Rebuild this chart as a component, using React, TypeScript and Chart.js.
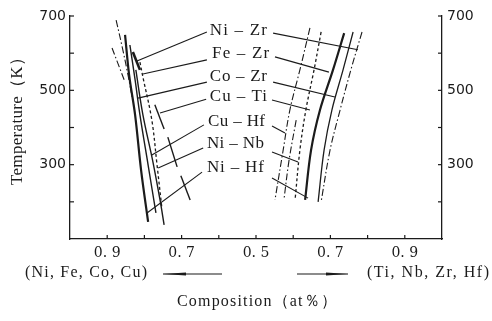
import React, { useEffect, useRef } from "react";
import { Chart, registerables } from "chart.js";

Chart.register(...registerables);

type Pt = [number, number];

// ---- axis ticks ----
const xTickValues = [0.1, 0.2, 0.3, 0.4, 0.5, 0.6, 0.7, 0.8, 0.9];
const xTickLabels = ["0. 9", "", "0. 7", "", "0. 5", "", "0. 7", "", "0. 9"];
const yTickValues = [200, 300, 400, 500, 600, 700];
const yTickLabels = ["", "300", "", "500", "", "700"];

// ---- alloy system labels ----
const systems = ["Ni – Zr", "Fe – Zr", "Co – Zr", "Cu – Ti", "Cu – Hf", "Ni – Nb", "Ni – Hf"];
const labelComposition = [0.376, 0.382, 0.376, 0.376, 0.371, 0.368, 0.368];
const labelTemperature = [662, 600, 536, 482, 415, 358, 291];

// ---- curves: [fraction of (Ti,Nb,Zr,Hf), temperature K] ----
const leftDashDotA: Pt[] = [[0.124, 689], [0.142, 609], [0.156, 541], [0.167, 482]];
const leftDashDotB: Pt[] = [[0.113, 614], [0.148, 522]];
const leftSolid1: Pt[] = [[0.148, 649], [0.159, 541], [0.175, 434], [0.191, 286], [0.21, 146]];
const leftSolid2: Pt[] = [[0.161, 622], [0.175, 528], [0.188, 434], [0.21, 299], [0.231, 170]];
const leftDashed: Pt[] = [[0.188, 576], [0.196, 536], [0.22, 420], [0.234, 299], [0.247, 183]];
const leftSolid3: Pt[] = [[0.177, 555], [0.196, 434], [0.223, 307], [0.242, 205], [0.253, 138]];
const leftArrowNiZr: Pt[] = [[0.169, 603], [0.188, 555]];
const leftSegCuTi: Pt[] = [[0.228, 461], [0.253, 396]];
const leftSegCuHf: Pt[] = [[0.263, 374], [0.288, 294]];
const leftSegNiHf: Pt[] = [[0.298, 270], [0.323, 205]];

const rightDashDot1: Pt[] = [[0.645, 668], [0.618, 555], [0.591, 447], [0.573, 339], [0.551, 205]];
const rightDashDot2: Pt[] = [[0.608, 420], [0.589, 313], [0.575, 205]];
const rightDashed: Pt[] = [[0.675, 657], [0.656, 555], [0.634, 447], [0.618, 339], [0.605, 205]];
const rightSolidThick: Pt[] = [[0.737, 654], [0.707, 555], [0.672, 447], [0.648, 339], [0.632, 205]];
const rightSolid: Pt[] = [[0.761, 657], [0.734, 555], [0.704, 447], [0.683, 339], [0.667, 200]];
const rightDashDot3: Pt[] = [[0.785, 657], [0.755, 555], [0.726, 447], [0.699, 339], [0.675, 200]];

// ---- leader lines from each label ----
const leadersLeft: Pt[][] = [
  [[0.368, 657], [0.18, 579]],
  [[0.368, 582], [0.196, 544]],
  [[0.368, 522], [0.183, 479]],
  [[0.366, 476], [0.242, 439]],
  [[0.36, 407], [0.22, 326]],
  [[0.358, 345], [0.237, 291]],
  [[0.355, 280], [0.207, 170]],
];
const leadersRight: Pt[][] = [
  [[0.546, 654], [0.774, 609]],
  [[0.551, 590], [0.696, 549]],
  [[0.546, 522], [0.712, 482]],
  [[0.543, 474], [0.645, 447]],
  [[0.543, 404], [0.578, 385]],
  [[0.543, 334], [0.613, 307]],
  [[0.543, 264], [0.64, 210]],
];

const INK = "#1b1b1b";
const SERIF = "'Liberation Serif', 'DejaVu Serif', serif";

const mk = (pts: Pt[], width: number, dash: number[], tension = 0.35) => ({
  data: pts.map(([x, y]) => ({ x, y })),
  borderColor: INK,
  backgroundColor: INK,
  borderWidth: width,
  borderDash: dash,
  pointRadius: 0,
  tension,
  fill: false,
  xAxisID: "x",
  yAxisID: "y",
});

const SOLID: number[] = [];
const DASHED = [3, 2.5];
const DASHDOT = [7, 2.5, 1.5, 2.5];

function fitText(ctx: CanvasRenderingContext2D, text: string, x: number, y: number, width: number, align: CanvasTextAlign) {
  (ctx as any).letterSpacing = "0px";
  const w = ctx.measureText(text).width;
  const sp = Math.max(0, (width - w) / Math.max(1, text.length - 1));
  (ctx as any).letterSpacing = sp.toFixed(2) + "px";
  ctx.textAlign = align;
  ctx.fillText(text, x, y);
  (ctx as any).letterSpacing = "0px";
}

const decor = {
  id: "decor",
  afterDraw(chart: any) {
    const { ctx, chartArea, scales } = chart;
    const xs = scales.x;
    const ys = scales.y;
    ctx.save();
    ctx.strokeStyle = INK;
    ctx.fillStyle = INK;
    ctx.lineWidth = 1.2;
    const seg = (a: number, b: number, c: number, d: number) => {
      ctx.beginPath();
      ctx.moveTo(a, b);
      ctx.lineTo(c, d);
      ctx.stroke();
    };
    // inward tick marks
    yTickValues.forEach((v) => {
      const py = ys.getPixelForValue(v);
      seg(chartArea.left, py, chartArea.left + 4, py);
      seg(chartArea.right - 4, py, chartArea.right, py);
    });
    xTickValues.forEach((v) => {
      const px = xs.getPixelForValue(v);
      seg(px, chartArea.bottom, px, chartArea.bottom - 4);
    });

    // system labels
    ctx.font = `17px ${SERIF}`;
    ctx.textBaseline = "middle";
    systems.forEach((s, i) => {
      const px = xs.getPixelForValue(labelComposition[i]);
      const py = ys.getPixelForValue(labelTemperature[i]);
      fitText(ctx, s, px, py, 57, "left");
    });

    // bottom composition labels and arrows
    ctx.font = `16px ${SERIF}`;
    fitText(ctx, "(Ni, Fe, Co, Cu)", 25, 273, 122, "left");
    fitText(ctx, "(Ti, Nb, Zr, Hf)", 367, 273, 122, "left");
    ctx.lineWidth = 1.1;
    seg(163, 274, 222, 274);
    seg(297, 274, 348, 274);
    ctx.beginPath();
    ctx.moveTo(163, 274);
    ctx.lineTo(186, 272.4);
    ctx.lineTo(186, 275.6);
    ctx.closePath();
    ctx.fill();
    ctx.beginPath();
    ctx.moveTo(348, 274);
    ctx.lineTo(326, 272.4);
    ctx.lineTo(326, 275.6);
    ctx.closePath();
    ctx.fill();

    fitText(ctx, "Composition（at％）", 177, 302, 160, "left");

    // y title
    ctx.save();
    ctx.translate(18, 117);
    ctx.rotate(-Math.PI / 2);
    ctx.font = `17px ${SERIF}`;
    fitText(ctx, "Temperature（K）", -68, 0, 136, "left");
    ctx.restore();

    ctx.restore();
  },
};

export default function App() {
  const ref = useRef<HTMLCanvasElement | null>(null);
  useEffect(() => {
    if (!ref.current) return;
    const datasets: any[] = [
      mk(leftDashDotA, 1.1, DASHDOT),
      mk(leftDashDotB, 1.1, DASHDOT, 0),
      mk(leftSolid1, 2.2, SOLID),
      mk(leftSolid2, 1.4, SOLID),
      mk(leftDashed, 1.3, DASHED),
      mk(leftSolid3, 1.4, SOLID),
      mk(leftArrowNiZr, 2.6, SOLID, 0),
      mk(leftSegCuTi, 1.4, SOLID, 0),
      mk(leftSegCuHf, 1.4, SOLID, 0),
      mk(leftSegNiHf, 1.4, SOLID, 0),
      mk(rightDashDot1, 1.1, DASHDOT),
      mk(rightDashDot2, 1.1, DASHDOT),
      mk(rightDashed, 1.3, DASHED),
      mk(rightSolidThick, 2.2, SOLID),
      mk(rightSolid, 1.3, SOLID),
      mk(rightDashDot3, 1.1, DASHDOT),
      ...leadersLeft.map((p) => mk(p, 1.1, SOLID, 0)),
      ...leadersRight.map((p) => mk(p, 1.1, SOLID, 0)),
    ];
    const tickY = (pos: "left" | "right", width: number) => ({
      type: "linear",
      position: pos,
      min: 100,
      max: 700,
      grid: { display: false, drawTicks: false },
      border: { display: true, color: INK, width: 1.3 },
      ticks: {
        color: INK,
        padding: pos === "left" ? 4 : 5,
        font: { family: "'DejaVu Sans', sans-serif", size: 14 },
        callback: (_v: any, i: number) => yTickLabels[i] ?? "",
      },
      afterBuildTicks: (s: any) => {
        s.ticks = yTickValues.map((v) => ({ value: v }));
      },
      afterFit: (s: any) => {
        s.width = width;
      },
    });
    const chart = new Chart(ref.current, {
      type: "line",
      data: { datasets },
      options: {
        animation: false,
        responsive: false,
        devicePixelRatio: 1,
        layout: { padding: { top: 16, left: 0, right: 0, bottom: 0 } },
        plugins: { legend: { display: false }, tooltip: { enabled: false } },
        scales: {
          x: {
            type: "linear",
            position: "bottom",
            min: 0,
            max: 1,
            grid: { display: false, drawTicks: false },
            border: { display: true, color: INK, width: 1.3 },
            ticks: {
              color: INK,
              padding: 6,
              autoSkip: false,
              maxRotation: 0,
              font: { family: "'DejaVu Serif', serif", size: 14 },
              callback: (_v: any, i: number) => xTickLabels[i] ?? "",
            },
            afterBuildTicks: (s: any) => {
              s.ticks = xTickValues.map((v) => ({ value: v }));
            },
            afterFit: (s: any) => {
              s.height = 82;
            },
          },
          y: tickY("left", 70),
          y2: tickY("right", 50),
        } as any,
      },
      plugins: [decor],
    });
    return () => chart.destroy();
  }, []);
  return (
    <div style={{ position: "fixed", left: 0, top: 0, width: 492, height: 321, background: "#fff" }}>
      <canvas ref={ref} width={492} height={321} style={{ display: "block" }} />
    </div>
  );
}
